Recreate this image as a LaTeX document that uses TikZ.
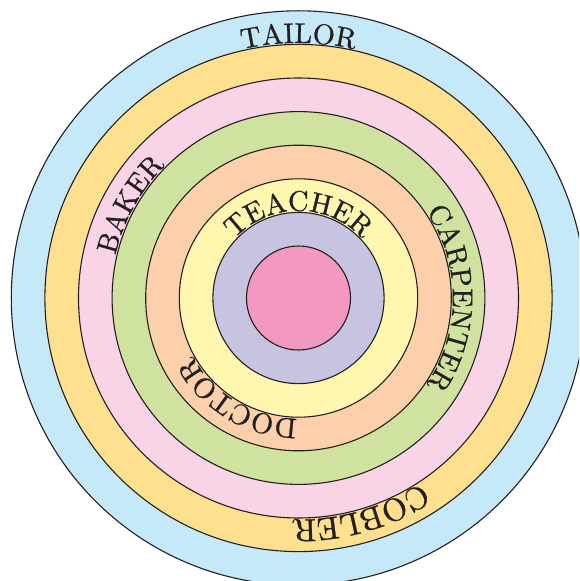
\documentclass[tikz,border=0pt]{standalone}
\usetikzlibrary{decorations.text}
\definecolor{cBlue}{HTML}{C5E9F8}
\definecolor{cOrange}{HTML}{FEE08F}
\definecolor{cPink}{HTML}{F9D4E6}
\definecolor{cGreen}{HTML}{CFE29F}
\definecolor{cPeach}{HTML}{FCD0AB}
\definecolor{cYellow}{HTML}{FFF6B0}
\definecolor{cLav}{HTML}{C7C4E1}
\definecolor{cRose}{HTML}{F398C0}
\definecolor{cLine}{HTML}{231F20}
\font\ringfnt="[lmroman10-regular]:mapping=tex-text;embolden=0.8" at 28.5pt
\font\ringfntbig="[lmroman10-regular]:mapping=tex-text;embolden=0.8" at 32pt
\tikzset{
  ring/.style={draw=cLine, line width=1.1pt},
  ringlabel/.style={decorate, decoration={text along path, text align=center,
     text format delimiters={|}{|}, text={|\ringfnt\color{cLine}|#1}}},
  ringlabelbig/.style={decorate, decoration={text along path, text align=center,
     text format delimiters={|}{|}, text={|\ringfntbig\color{cLine}|#1}}}
}
\begin{document}
\begin{tikzpicture}[x=1pt,y=1pt]
\useasboundingbox (-298.5,-283) rectangle (280.5,298);
\clip (-298.5,-283) rectangle (280.5,298);
\foreach \r/\c in {287.2/cBlue, 253.6/cOrange, 220/cPink, 186.4/cGreen, 152.8/cPeach, 119.2/cYellow, 85.6/cLav, 52/cRose}
  \draw[ring, fill=\c] (0,0) circle (\r);
% labels, clockwise, baseline just outside the inner circle of each band
\path[ringlabel=TAILOR] (170:255) arc[start angle=170, end angle=10, radius=255];
\path[ringlabelbig=COBLER] (6:221.5) arc[start angle=6, end angle=-154, radius=221.5];
\path[ringlabel=BAKER] (231:188) arc[start angle=231, end angle=71, radius=188];
\path[ringlabel=CARPENTER] (80:154.3) arc[start angle=80, end angle=-80, radius=154.3];
\path[ringlabel=DOCTOR] (-41:120.7) arc[start angle=-41, end angle=-201, radius=120.7];
\path[ringlabel=TEACHER] (170:87.1) arc[start angle=170, end angle=10, radius=87.1];
\end{tikzpicture}
\end{document}
